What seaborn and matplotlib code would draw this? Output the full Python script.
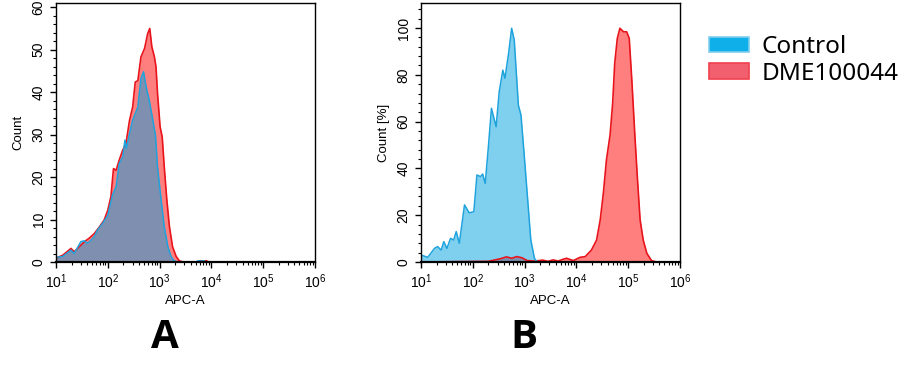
import numpy as np
import pandas as pd
import matplotlib
matplotlib.use("Agg")
import matplotlib.pyplot as plt
import seaborn as sns
from matplotlib.patches import Patch
from matplotlib.ticker import MultipleLocator

# ---- data (x = log10 APC-A) ----
a_ctrl_log = [1.0, 1.13, 1.29, 1.35, 1.48, 1.55, 1.61, 1.68, 1.74, 1.8, 1.9, 2.0, 2.09, 2.16,
              2.22, 2.29, 2.33, 2.36, 2.42, 2.48, 2.58, 2.64, 2.69, 2.74, 2.8, 2.87, 2.92,
              2.96, 3.03, 3.09, 3.16, 3.22, 3.28, 3.35, 3.7, 3.75, 3.8, 3.85, 3.9, 6.0]
a_ctrl_cnt = [1.1, 1.3, 2.8, 2.0, 4.8, 5.0, 4.4, 5.2, 6.0, 7.5, 9.1, 11.0, 15.8, 17.7,
              23.2, 24.8, 28.7, 26.7, 30.3, 33.4, 36.5, 43.2, 44.8, 41.3, 38.1, 33.4, 29.9,
              22.4, 14.6, 8.3, 3.6, 1.3, 0.3, 0.0, 0.0, 0.3, 0.2, 0.3, 0.0, 0.0]

a_dme_log = [1.0, 1.13, 1.29, 1.35, 1.45, 1.55, 1.64, 1.74, 1.84, 1.93, 2.0, 2.06, 2.11,
             2.16, 2.22, 2.29, 2.35, 2.42, 2.48, 2.53, 2.58, 2.64, 2.71, 2.77, 2.81, 2.85,
             2.9, 2.93, 2.96, 3.01, 3.05, 3.09, 3.14, 3.19, 3.25, 3.32, 3.38, 3.45, 3.75,
             3.8, 3.85, 3.9, 3.95, 6.0]
a_dme_cnt = [0.9, 1.6, 3.2, 2.4, 3.6, 4.8, 5.6, 6.7, 8.3, 9.9, 12.2, 15.4, 22.0,
             21.6, 24.0, 26.4, 27.9, 33.4, 36.5, 42.4, 42.7, 48.3, 50.3, 53.8, 55.0, 50.7,
             48.3, 46.0, 39.7, 31.8, 29.5, 22.4, 14.6, 8.3, 3.6, 1.3, 0.3, 0.0, 0.0,
             0.3, 0.2, 0.3, 0.0, 0.0]

b_ctrl_log = [1.0, 1.13, 1.26, 1.32, 1.39, 1.44, 1.5, 1.57, 1.63, 1.68, 1.74, 1.84, 1.93,
              2.02, 2.08, 2.15, 2.19, 2.24, 2.3, 2.36, 2.45, 2.51, 2.58, 2.62, 2.69, 2.75,
              2.8, 2.88, 2.93, 2.99, 3.06, 3.12, 3.19, 3.24, 6.0]
b_ctrl_pct = [3.0, 2.0, 5.8, 6.6, 5.1, 8.7, 5.8, 10.1, 9.4, 13.0, 8.0, 24.4, 21.0,
              21.5, 37.2, 36.5, 37.6, 33.6, 49.0, 65.7, 57.8, 72.8, 82.0, 78.5, 89.0, 99.9,
              94.9, 67.0, 62.8, 46.4, 26.5, 9.4, 1.6, 0.0, 0.0]

b_dme_log = [1.0, 2.3, 2.45, 2.55, 2.65, 2.75, 2.85, 2.95, 3.05, 3.2, 3.35, 3.45, 3.55,
             3.65, 3.72, 3.81, 3.94, 4.07, 4.17, 4.29, 4.39, 4.46, 4.52, 4.58, 4.65, 4.7,
             4.74, 4.79, 4.84, 4.91, 4.97, 5.02, 5.07, 5.13, 5.18, 5.23, 5.29, 5.36, 5.45,
             5.55, 6.0]
b_dme_pct = [0.0, 0.3, 1.0, 1.5, 2.2, 1.6, 2.3, 1.8, 0.6, 0.4, 0.8, 0.3, 0.9,
             0.4, 1.0, 1.6, 0.6, 2.0, 2.3, 5.1, 9.4, 18.0, 29.3, 43.6, 54.3, 67.8,
             85.0, 95.6, 99.9, 98.4, 98.4, 95.6, 77.8, 53.6, 35.0, 18.0, 9.4, 3.7, 0.6,
             0.0, 0.0]

series_names = ["Control", "DME100044"]
panel_labels = ["A", "B"]
y_labels = ["Count", "Count [%]"]
x_label = "APC-A"

RED_LINE = "#e8141c"
BLUE_LINE = "#1ea3dd"

sns.set_style("ticks")
plt.rcParams['font.family'] = ['Liberation Sans', 'DejaVu Sans']
plt.rcParams['text.color'] = 'black'
plt.rcParams['axes.labelcolor'] = 'black'
plt.rcParams['xtick.color'] = 'black'
plt.rcParams['ytick.color'] = 'black'


def draw_panel(ax, ctrl_x, ctrl_y, dme_x, dme_y, ymax, ystep, yminor, ylabel):
    ctrl = pd.DataFrame({"apc": 10 ** np.array(ctrl_x), "val": ctrl_y})
    dme = pd.DataFrame({"apc": 10 ** np.array(dme_x), "val": dme_y})
    # red first, control on top (overlap turns slate)
    ax.fill_between(dme["apc"], dme["val"], color="red", alpha=0.5, linewidth=0)
    sns.lineplot(data=dme, x="apc", y="val", ax=ax, color=RED_LINE, linewidth=1.2)
    ax.fill_between(ctrl["apc"], ctrl["val"], color="#00a0e0", alpha=0.5, linewidth=0)
    sns.lineplot(data=ctrl, x="apc", y="val", ax=ax, color=BLUE_LINE, linewidth=1.1)

    ax.set_xscale("log")
    ax.set_xlim(10, 1e6)
    ax.set_ylim(0, ymax)
    ax.yaxis.set_major_locator(MultipleLocator(ystep))
    ax.yaxis.set_minor_locator(MultipleLocator(yminor))
    ax.tick_params(axis="both", which="major", length=4, width=1, labelsize=10, color="black",
                   labelcolor="black")
    ax.tick_params(axis="both", which="minor", length=2, width=0.8, color="black")
    for lab in ax.get_yticklabels():
        lab.set_rotation(90)
        lab.set_va("center")
    ax.set_xlabel(x_label, fontsize=9.5, labelpad=3)
    ax.set_ylabel(ylabel, fontsize=9.5, labelpad=5)
    for sp in ax.spines.values():
        sp.set_color("black")
        sp.set_linewidth(1.0)
    ax.spines["bottom"].set_linewidth(1.6)


fig = plt.figure(figsize=(9.19, 3.69), dpi=100)
ax_a = fig.add_axes([56 / 919, 107 / 369, 259 / 919, 259 / 369])
ax_b = fig.add_axes([421 / 919, 107 / 369, 259 / 919, 259 / 369])

draw_panel(ax_a, a_ctrl_log, a_ctrl_cnt, a_dme_log, a_dme_cnt, 61, 10, 2, y_labels[0])
draw_panel(ax_b, b_ctrl_log, b_ctrl_pct, b_dme_log, b_dme_pct, 110.7, 20, 4, y_labels[1])

big_font = ["Open Sans", "Noto Sans", "DejaVu Sans"]
fig.text(165 / 919, 1 - 338 / 369, panel_labels[0], fontsize=29, fontweight="bold",
         family=big_font, ha="center", va="center")
fig.text(524 / 919, 1 - 338 / 369, panel_labels[1], fontsize=29, fontweight="bold",
         family=big_font, ha="center", va="center")

handles = [Patch(facecolor="#0fb0ea", edgecolor="#7fcdee", linewidth=1.2),
           Patch(facecolor="#f2606f", edgecolor="#f0404e", linewidth=1.2)]
fig.legend(handles, series_names, loc="upper left", bbox_to_anchor=(709 / 919, 1 - 35 / 369),
           frameon=False, prop={"family": ["Noto Sans", "DejaVu Sans"], "size": 17.5},
           handlelength=1.65, handleheight=0.62, handletextpad=0.5, labelspacing=0.12,
           borderaxespad=0, borderpad=0)

fig.savefig("out.png", dpi=100)
